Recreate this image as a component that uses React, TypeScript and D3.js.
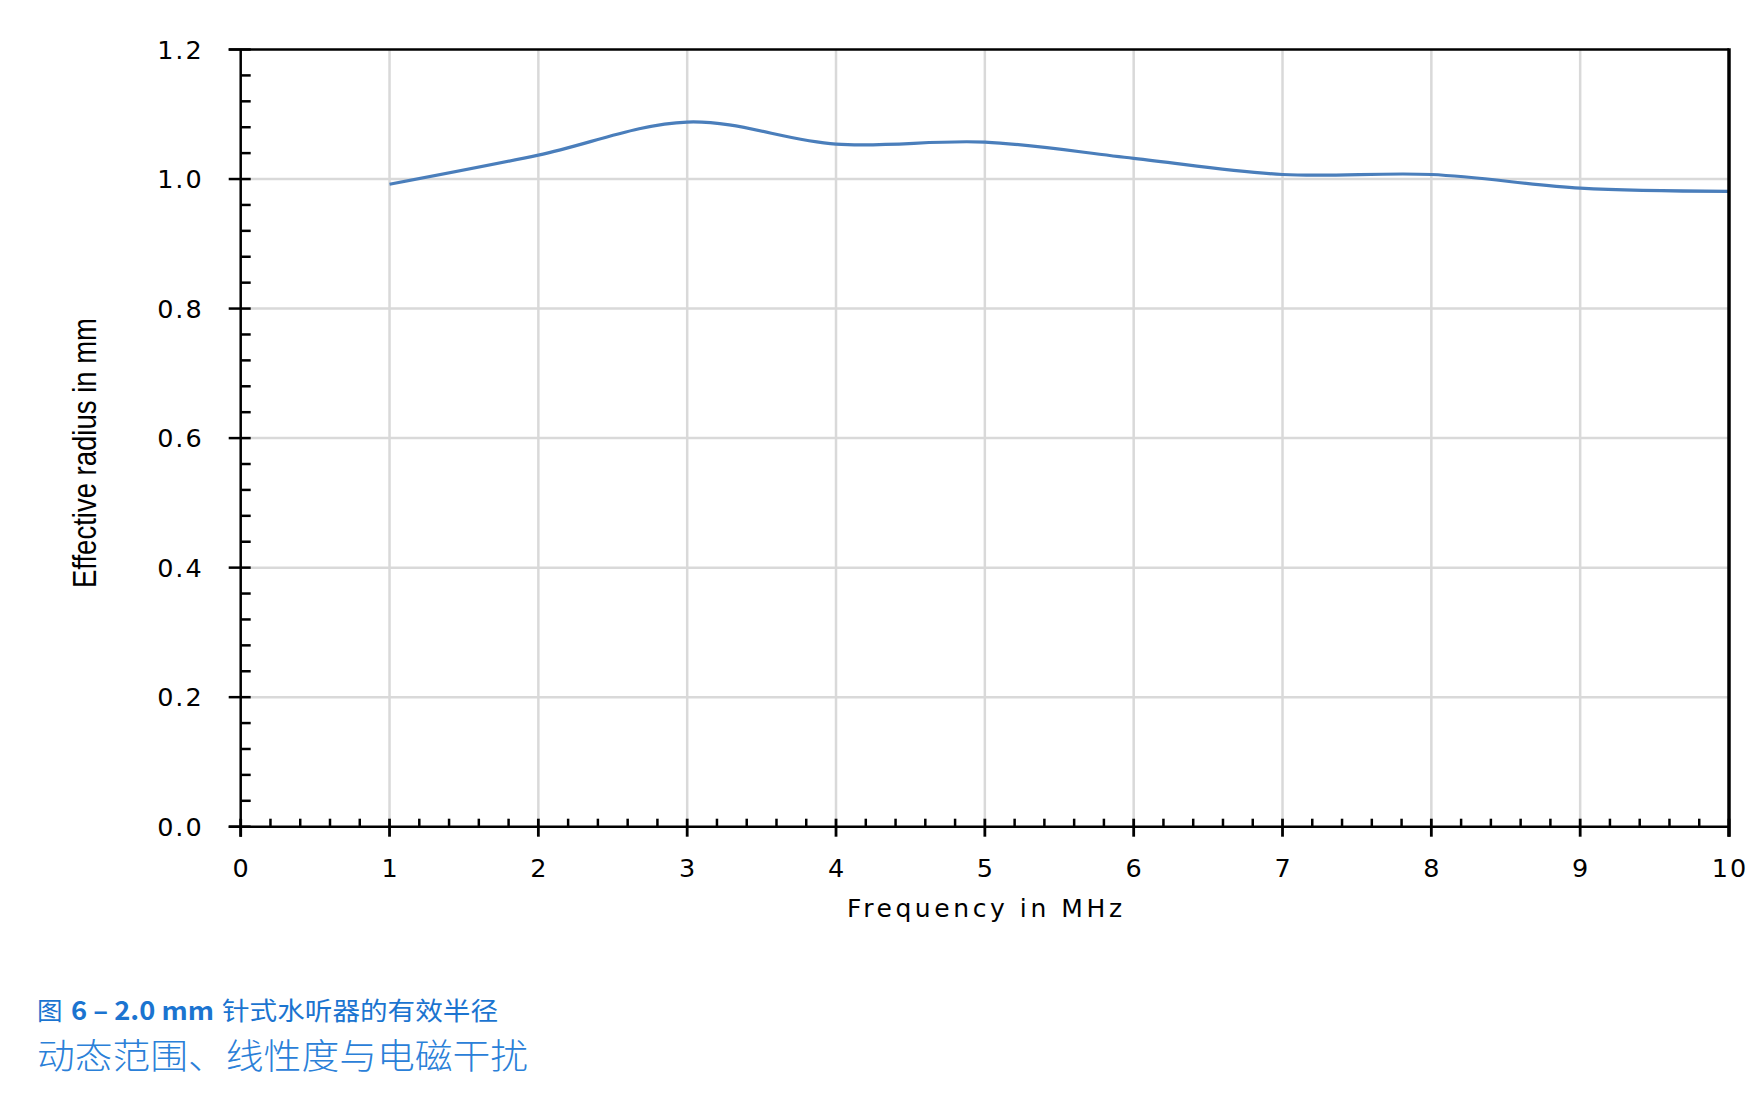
import React from "react";
import * as d3 from "d3";

const freqs = [1, 2, 3, 4, 5, 6, 7, 8, 9, 10];
const radius = [0.992, 1.037, 1.088, 1.054, 1.057, 1.032, 1.007, 1.007, 0.986, 0.981];
const xTicks = [0, 1, 2, 3, 4, 5, 6, 7, 8, 9, 10];
const yTicks = [0, 0.2, 0.4, 0.6, 0.8, 1.0, 1.2];
const xTitle = "Frequency in MHz";
const yTitle = "Effective radius in mm";
const captionPrefix = "图";
const captionBold = "6 – 2.0 mm";
const captionRest = "针式水听器的有效半径";
const subtitle = "动态范围、线性度与电磁干扰";

const W = 1763;
const H = 1104;
const L = 240.7, R = 1729, T = 49.5, B = 826.7;

export default function App() {
  const x = d3.scaleLinear().domain([0, 10]).range([L, R]);
  const y = d3.scaleLinear().domain([0, 1.2]).range([B, T]);
  const xMinor = d3.range(0, 10.001, 0.2).filter((v) => Math.abs(v - Math.round(v)) > 1e-6);
  const yMinor = d3.range(0, 1.2001, 0.04).filter((v) => Math.abs(v / 0.2 - Math.round(v / 0.2)) > 1e-6);
  const line = d3
    .line<number>()
    .x((_, i) => x(freqs[i]))
    .y((d) => y(d))
    .curve(d3.curveCardinal.tension(0));
  const tickFont = "'DejaVu Sans', Verdana, sans-serif";
  const blue = "#1b74d0";
  const cjk = "'Noto Sans CJK SC', 'Noto Sans', sans-serif";
  return (
    <div style={{ position: "absolute", left: 0, top: 0, width: W, height: H, background: "#fff" }}>
      <svg width={W} height={H} style={{ display: "block" }}>
        <rect x={0} y={0} width={W} height={H} fill="#fff" />
        {/* gridlines */}
        {xTicks.slice(1, -1).map((t) => (
          <line key={"gx" + t} x1={x(t)} x2={x(t)} y1={T} y2={B} stroke="#d9d9d9" strokeWidth={2.5} />
        ))}
        {yTicks.slice(1, -1).map((t) => (
          <line key={"gy" + t} x1={L} x2={R} y1={y(t)} y2={y(t)} stroke="#d9d9d9" strokeWidth={2.5} />
        ))}
        {/* series */}
        <path d={line(radius) || ""} fill="none" stroke="#4a7ebb" strokeWidth={3.2} />
        {/* frame */}
        <line x1={L - 12} x2={R} y1={T} y2={T} stroke="#000" strokeWidth={2.5} />
        <line x1={R} x2={R} y1={T - 1.2} y2={B + 10} stroke="#000" strokeWidth={3.5} />
        <line x1={L} x2={L} y1={T} y2={B + 10} stroke="#000" strokeWidth={2.5} />
        <line x1={L - 12} x2={R} y1={B} y2={B} stroke="#000" strokeWidth={2.5} />
        {/* y ticks */}
        {yTicks.map((t) => (
          <line key={"ym" + t} x1={L - 12} x2={L + 10} y1={y(t)} y2={y(t)} stroke="#000" strokeWidth={2.5} />
        ))}
        {yMinor.map((t) => (
          <line key={"yn" + t} x1={L} x2={L + 10} y1={y(t)} y2={y(t)} stroke="#000" strokeWidth={2.5} />
        ))}
        {/* x ticks */}
        {xTicks.map((t) => (
          <line key={"xm" + t} x1={x(t)} x2={x(t)} y1={B - 8} y2={B + 10} stroke="#000" strokeWidth={2.8} />
        ))}
        {xMinor.map((t) => (
          <line key={"xn" + t} x1={x(t)} x2={x(t)} y1={B - 8} y2={B} stroke="#000" strokeWidth={2.5} />
        ))}
        {/* tick labels */}
        {yTicks.map((t) => (
          <text key={"yl" + t} x={L - 37} y={y(t) + 9} textAnchor="end" fontFamily={tickFont} fontSize={25.5} letterSpacing={2} fill="#000">
            {t.toFixed(1)}
          </text>
        ))}
        {xTicks.map((t) => (
          <text key={"xl" + t} x={x(t) + 1} y={877} textAnchor="middle" fontFamily={tickFont} fontSize={25.5} letterSpacing={2} fill="#000">
            {String(t)}
          </text>
        ))}
        {/* axis titles */}
        <text x={984.5} y={917} textAnchor="middle" fontFamily={tickFont} fontSize={25} textLength={275} lengthAdjust="spacing" fill="#000">
          {xTitle}
        </text>
        <text
          x={96}
          y={453}
          transform="rotate(-90, 96, 453)"
          textAnchor="middle"
          fontFamily="'Liberation Sans Narrow', 'Liberation Sans', sans-serif"
          fontSize={33}
          textLength={270}
          lengthAdjust="spacingAndGlyphs"
          fill="#000"
        >
          {yTitle}
        </text>
        {/* captions */}
        <text x={37} y={1020} fontFamily={cjk} fontSize={25.5} fill={blue}>
          {captionPrefix}
        </text>
        <text x={71} y={1020} fontFamily={cjk} fontSize={25.5} fontWeight="bold" textLength={143} lengthAdjust="spacingAndGlyphs" fill={blue}>
          {captionBold}
        </text>
        <text x={222} y={1020} fontFamily={cjk} fontSize={25.5} textLength={276} lengthAdjust="spacingAndGlyphs" fill={blue}>
          {captionRest}
        </text>
        <text x={37} y={1069} fontFamily={cjk} fontSize={35.5} fontWeight={300} textLength={491} lengthAdjust="spacingAndGlyphs" fill="#2a80d8">
          {subtitle}
        </text>
      </svg>
    </div>
  );
}
